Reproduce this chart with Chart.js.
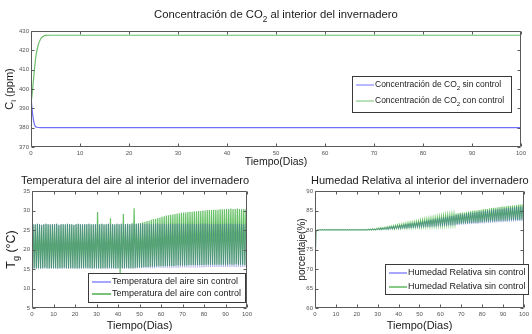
<!DOCTYPE html>
<html lang="es">
<head>
  <meta charset="UTF-8" />
  <title>Invernadero</title>
  <style>
    body { margin: 0; background: #fff; width: 532px; height: 334px; overflow: hidden; position: relative; }
    canvas { position: absolute; display: block; }
  </style>
</head>
<body>
  <canvas id="co2" width="532" height="168" style="left:0;top:0"></canvas>
  <canvas id="temp" width="262" height="166" style="left:0;top:168px"></canvas>
  <canvas id="hum" width="270" height="166" style="left:262px;top:168px"></canvas>

  <script src="https://cdn.jsdelivr.net/npm/chart.js"></script>
  <script>
    // CO2 (ppm) vs time (days)
    const co2SinX = [0, 0.2, 0.5, 0.8, 1.2, 2, 100];
    const co2Sin  = [396, 390, 384, 381, 380.2, 380, 380];
    const co2ConX = [0, 0.3, 0.7, 1.0, 1.5, 2.0, 2.5, 3.0, 4, 100];
    const co2Con  = [392, 399, 410, 417, 423, 426, 427.2, 427.7, 427.8, 427.8];

    // daily min / max of air temperature (°C), days 0..99
    const tConMax = [
      26.5, 26.4, 26.6, 26.5, 26.3, 26.5, 26.6, 26.5, 26.4, 26.5,
      26.5, 26.6, 26.2, 26.5, 26.5, 26.4, 26.6, 26.5, 26.5, 26.3,
      26.5, 26.6, 26.5, 26.4, 26.5, 26.5, 26.6, 26.4, 26.5, 26.5,
      29.6, 26.5, 26.6, 26.4, 26.5, 26.6, 28.0, 26.5, 26.4, 26.6,
      26.5, 26.6, 29.1, 26.5, 26.6, 26.5, 26.7, 30.6, 26.6, 26.7,
      26.8, 27.0, 27.1, 27.3, 27.4, 27.6, 27.8, 27.9, 28.1, 28.2,
      28.4, 28.5, 28.7, 28.8, 28.9, 29.0, 29.1, 29.2, 29.3, 29.4,
      29.5, 29.5, 29.6, 29.7, 29.7, 29.8, 29.8, 29.9, 29.9, 30.0,
      30.0, 30.1, 30.1, 30.1, 30.2, 30.2, 30.2, 30.3, 30.3, 30.3,
      30.4, 30.4, 30.5, 30.4, 30.4, 30.5, 30.4, 30.3, 30.4, 30.3
    ];
    const tConMin = [
      15.2, 15.1, 15.2, 15.2, 15.1, 15.2, 15.3, 15.2, 15.1, 15.2,
      15.2, 15.2, 15.1, 15.2, 15.2, 15.3, 15.2, 15.1, 15.2, 15.2,
      15.2, 15.1, 15.2, 15.2, 15.2, 15.3, 15.2, 15.2, 15.1, 15.2,
      15.2, 15.2, 15.1, 15.2, 15.2, 15.2, 15.3, 15.2, 15.2, 15.1,
      15.2, 14.0, 15.2, 15.2, 15.3, 15.2, 15.2, 15.2, 15.3, 15.3,
      15.4, 15.4, 15.5, 15.5, 15.5, 15.6, 15.6, 15.6, 15.7, 15.7,
      15.7, 15.7, 15.8, 15.8, 15.8, 15.8, 15.8, 15.9, 15.9, 15.9,
      15.9, 15.9, 15.9, 16.0, 16.0, 16.0, 16.0, 16.0, 16.0, 16.0,
      16.0, 16.1, 16.1, 16.1, 16.1, 16.1, 16.1, 16.1, 16.1, 16.1,
      16.1, 16.1, 16.2, 16.1, 16.1, 16.2, 16.1, 16.1, 16.1, 16.0
    ];
    const tSinMax = [
      26.5, 26.5, 26.6, 26.5, 26.4, 26.5, 26.6, 26.5, 26.5, 26.5,
      26.5, 26.6, 26.4, 26.5, 26.5, 26.5, 26.6, 26.5, 26.5, 26.4,
      26.5, 26.6, 26.5, 26.5, 26.5, 26.5, 26.6, 26.5, 26.5, 26.5,
      26.5, 26.5, 26.6, 26.5, 26.5, 26.6, 26.5, 26.5, 26.5, 26.6,
      26.5, 26.6, 26.5, 26.5, 26.6, 26.5, 26.6, 26.5, 26.6, 26.6,
      26.6, 26.6, 26.5, 26.6, 26.6, 26.5, 26.6, 26.6, 26.6, 26.5,
      26.6, 26.6, 26.5, 26.6, 26.6, 26.6, 26.5, 26.6, 26.6, 26.6,
      26.6, 26.5, 26.6, 26.6, 26.6, 26.6, 26.5, 26.6, 26.6, 26.6,
      26.6, 26.6, 26.5, 26.6, 26.6, 26.6, 26.6, 26.5, 26.6, 26.6,
      26.6, 26.6, 26.6, 26.5, 26.6, 26.6, 26.6, 26.6, 26.5, 26.6
    ];
    const tSinMin = [
      15.1, 15.1, 15.1, 15.1, 15.1, 15.1, 15.1, 15.1, 15.1, 15.1,
      15.1, 15.1, 15.1, 15.1, 15.1, 15.1, 15.1, 15.1, 15.1, 15.1,
      15.1, 15.1, 15.1, 15.1, 15.1, 15.1, 15.1, 15.1, 15.1, 15.1,
      15.1, 15.1, 15.1, 15.1, 15.1, 15.1, 15.1, 15.1, 15.1, 15.1,
      15.1, 15.1, 15.1, 15.1, 15.1, 15.1, 15.1, 15.1, 15.1, 15.2,
      15.2, 15.2, 15.2, 15.2, 15.2, 15.2, 15.2, 15.2, 15.3, 15.3,
      15.3, 15.3, 15.3, 15.3, 15.3, 15.3, 15.3, 15.3, 15.3, 15.4,
      15.4, 15.4, 15.4, 15.4, 15.4, 15.4, 15.4, 15.4, 15.4, 15.4,
      15.4, 15.5, 15.5, 15.5, 15.5, 15.5, 15.5, 15.5, 15.5, 15.5,
      15.5, 15.5, 15.5, 15.5, 15.5, 15.5, 15.5, 15.5, 15.5, 15.5
    ];

    // daily min / max of relative humidity (%), days 0..99
    const hConMax = [
      79.6, 80.0, 80.1, 80.1, 80.1, 80.1, 80.1, 80.1, 80.1, 80.1,
      80.1, 80.1, 80.1, 80.1, 80.1, 80.1, 80.1, 80.1, 80.1, 80.1,
      80.1, 80.1, 80.1, 80.1, 80.1, 80.2, 80.2, 80.3, 80.3, 80.4,
      80.5, 80.6, 80.6, 80.7, 80.8, 80.9, 81.0, 81.1, 81.2, 81.3,
      81.4, 81.5, 81.6, 81.7, 81.8, 81.9, 82.0, 82.1, 82.2, 82.3,
      82.5, 82.6, 82.7, 82.8, 82.9, 83.0, 83.1, 83.2, 83.3, 83.4,
      83.5, 83.6, 83.7, 83.8, 83.9, 84.0, 84.1, 84.2, 84.3, 84.4,
      84.5, 84.5, 84.6, 84.7, 84.8, 84.9, 85.0, 85.0, 85.1, 85.2,
      85.3, 85.4, 85.4, 85.5, 85.6, 85.7, 85.7, 85.8, 85.9, 86.0,
      86.0, 86.1, 86.2, 86.2, 86.3, 86.3, 86.4, 86.5, 86.5, 86.6
    ];
    const hConMin = [
      70.0, 80.0, 80.0, 80.0, 80.0, 80.0, 80.0, 80.0, 80.0, 80.0,
      80.0, 80.0, 80.0, 80.0, 80.0, 80.0, 80.0, 80.0, 80.0, 80.0,
      80.0, 80.0, 80.0, 80.0, 80.0, 80.0, 80.0, 80.0, 80.0, 80.0,
      80.1, 80.1, 80.1, 80.2, 80.2, 80.2, 80.3, 80.3, 80.3, 80.4,
      80.4, 80.4, 80.5, 80.5, 80.5, 80.6, 80.6, 80.7, 80.7, 80.8,
      80.8, 80.8, 80.9, 80.9, 81.0, 81.0, 81.0, 81.1, 81.1, 81.2,
      81.2, 81.2, 81.3, 81.3, 81.4, 81.4, 81.5, 81.5, 81.5, 81.6,
      81.6, 81.7, 81.7, 81.7, 81.8, 81.8, 81.9, 81.9, 81.9, 82.0,
      82.0, 82.1, 82.1, 82.1, 82.2, 82.2, 82.2, 82.3, 82.3, 82.3,
      82.4, 82.4, 82.4, 82.5, 82.5, 82.5, 82.6, 82.6, 82.6, 82.7
    ];
    const hSinMax = [
      79.5, 80.0, 80.1, 80.1, 80.1, 80.1, 80.1, 80.1, 80.1, 80.1,
      80.1, 80.1, 80.1, 80.1, 80.1, 80.1, 80.1, 80.1, 80.1, 80.1,
      80.1, 80.1, 80.1, 80.1, 80.1, 80.1, 80.2, 80.2, 80.3, 80.3,
      80.4, 80.5, 80.5, 80.6, 80.7, 80.8, 80.9, 81.0, 81.0, 81.1,
      81.2, 81.3, 81.4, 81.5, 81.6, 81.7, 81.7, 81.8, 81.9, 82.0,
      82.1, 82.2, 82.3, 82.4, 82.5, 82.6, 82.7, 82.8, 82.9, 83.0,
      83.1, 83.2, 83.3, 83.4, 83.5, 83.6, 83.7, 83.8, 83.9, 84.0,
      84.0, 84.1, 84.2, 84.3, 84.4, 84.4, 84.5, 84.6, 84.7, 84.7,
      84.8, 84.9, 85.0, 85.0, 85.1, 85.2, 85.2, 85.3, 85.4, 85.4,
      85.5, 85.6, 85.6, 85.7, 85.7, 85.8, 85.9, 85.9, 86.0, 86.0
    ];
    const hSinMin = [
      70.0, 80.0, 80.0, 80.0, 80.0, 80.0, 80.0, 80.0, 80.0, 80.0,
      80.0, 80.0, 80.0, 80.0, 80.0, 80.0, 80.0, 80.0, 80.0, 80.0,
      80.0, 80.0, 80.0, 80.0, 80.0, 80.0, 80.0, 80.0, 80.0, 80.0,
      80.0, 80.0, 80.0, 80.1, 80.1, 80.1, 80.2, 80.2, 80.2, 80.3,
      80.3, 80.3, 80.4, 80.4, 80.4, 80.5, 80.5, 80.5, 80.6, 80.6,
      80.6, 80.7, 80.7, 80.8, 80.8, 80.8, 80.9, 80.9, 80.9, 81.0,
      81.0, 81.0, 81.1, 81.1, 81.2, 81.2, 81.2, 81.3, 81.3, 81.3,
      81.4, 81.4, 81.4, 81.5, 81.5, 81.5, 81.6, 81.6, 81.6, 81.7,
      81.7, 81.7, 81.8, 81.8, 81.8, 81.9, 81.9, 81.9, 82.0, 82.0,
      82.0, 82.1, 82.1, 82.1, 82.2, 82.2, 82.2, 82.3, 82.3, 82.3
    ];

    const FONT = '"Liberation Sans", Arial, sans-serif';

    function toPoints(xs, ys) {
      return xs.map((x, i) => ({ x: x, y: ys[i] }));
    }

    // one day = a low point then a high point half a day later
    function dailyPoints(mins, maxs) {
      const pts = [];
      mins.forEach((m, d) => {
        pts.push({ x: d, y: m });
        pts.push({ x: d + 0.5, y: maxs[d] });
      });
      return pts;
    }

    // text with subscripts: parts = [['Concentración de CO'], ['2', 1], ...]
    function richWidth(ctx, parts, size) {
      let w = 0;
      parts.forEach(p => {
        ctx.font = (p[1] ? size * 0.72 : size) + 'px ' + FONT;
        w += ctx.measureText(p[0]).width;
      });
      return w;
    }
    function richText(ctx, parts, x, y, size, align, color) {
      const w = richWidth(ctx, parts, size);
      let cx = align === 'center' ? x - w / 2 : x;
      ctx.fillStyle = color || '#222';
      ctx.textAlign = 'left';
      ctx.textBaseline = 'middle';
      parts.forEach(p => {
        const sub = !!p[1];
        ctx.font = (sub ? size * 0.72 : size) + 'px ' + FONT;
        ctx.fillText(p[0], cx, sub ? y + size * 0.38 : y);
        cx += ctx.measureText(p[0]).width;
      });
    }

    const matlabFrame = {
      id: 'matlabFrame',
      afterDraw(chart) {
        const o = chart.options.plugins.matlabFrame;
        const ctx = chart.ctx;
        const a = chart.chartArea;
        const xs = chart.scales.x, ys = chart.scales.y;
        const L = Math.round(a.left) + 0.5, R = Math.round(a.right) - 0.5;
        const T = Math.round(a.top) + 0.5, B = Math.round(a.bottom) - 0.5;
        ctx.save();
        ctx.strokeStyle = '#5a5a5a';
        ctx.lineWidth = 1;
        ctx.beginPath();
        ctx.rect(L, T, R - L, B - T);
        xs.ticks.forEach(t => {
          const px = Math.round(xs.getPixelForValue(t.value)) + 0.5;
          ctx.moveTo(px, B); ctx.lineTo(px, B - 3);
          ctx.moveTo(px, T); ctx.lineTo(px, T + 3);
        });
        ys.ticks.forEach(t => {
          const py = Math.round(ys.getPixelForValue(t.value)) + 0.5;
          ctx.moveTo(L, py); ctx.lineTo(L + 3, py);
          ctx.moveTo(R, py); ctx.lineTo(R - 3, py);
        });
        ctx.stroke();

        // titles
        richText(ctx, o.title, o.titleX, o.titleY, o.titleSize, o.titleAlign, '#1a1a1a');
        richText(ctx, o.xLabel, (a.left + a.right) / 2, o.xLabelY, o.xLabelSize, 'center', '#1a1a1a');
        ctx.save();
        ctx.translate(o.yLabelX, (a.top + a.bottom) / 2);
        ctx.rotate(-Math.PI / 2);
        richText(ctx, o.yLabel, 0, 0, o.yLabelSize, 'center', '#1a1a1a');
        ctx.restore();

        // legend box inside plot
        const lg = o.legend;
        ctx.fillStyle = '#fff';
        ctx.fillRect(lg.x, lg.y, lg.w, lg.h);
        ctx.strokeStyle = '#3a3a3a';
        ctx.strokeRect(lg.x + 0.5, lg.y + 0.5, lg.w - 1, lg.h - 1);
        chart.data.datasets.forEach((ds, i) => {
          const y = lg.rows[i];
          ctx.strokeStyle = ds.legendColor;
          ctx.lineWidth = 1.4;
          ctx.beginPath();
          ctx.moveTo(lg.x + 4, y); ctx.lineTo(lg.x + 4 + lg.line, y);
          ctx.stroke();
          richText(ctx, ds.labelParts, lg.x + 5 + lg.line, y, lg.size, 'left', '#1a1a1a');
        });
        ctx.restore();
      }
    };

    function makeOptions(cfg) {
      return {
        responsive: false,
        animation: false,
        devicePixelRatio: 1,
        layout: { autoPadding: false, padding: { top: cfg.top, right: cfg.right, left: 0, bottom: 0 } },
        scales: {
          x: {
            type: 'linear', min: 0, max: 100,
            grid: { display: false, drawTicks: false },
            border: { display: false },
            ticks: { stepSize: 10, autoSkip: false, maxRotation: 0, padding: 3,
                     color: '#555', font: { family: FONT, size: 6 } },
            afterFit(s) { s.height = cfg.bottom; }
          },
          y: {
            min: cfg.ymin, max: cfg.ymax,
            grid: { display: false, drawTicks: false },
            border: { display: false },
            ticks: { stepSize: cfg.ystep, padding: 2, color: '#555', font: { family: FONT, size: 6 } },
            afterFit(s) { s.width = cfg.left; }
          }
        },
        plugins: {
          legend: { display: false },
          tooltip: { enabled: false },
          matlabFrame: cfg.frame
        }
      };
    }

    Chart.register(matlabFrame);

    new Chart(document.getElementById('co2'), {
      type: 'line',
      data: {
        datasets: [
          { data: toPoints(co2SinX, co2Sin), borderColor: '#6e6ef8', legendColor: '#9a9aff',
            borderWidth: 1.2, pointRadius: 0, cubicInterpolationMode: 'monotone',
            labelParts: [['Concentración de CO'], ['2', 1], [' sin control']] },
          { data: toPoints(co2ConX, co2Con), borderColor: '#6cbf6c', legendColor: '#9bd39b',
            borderWidth: 1.2, pointRadius: 0, cubicInterpolationMode: 'monotone',
            labelParts: [['Concentración de CO'], ['2', 1], [' con control']] }
        ]
      },
      options: makeOptions({
        top: 31, right: 11, left: 31, bottom: 21, ymin: 370, ymax: 430, ystep: 10,
        frame: {
          title: [['Concentración de CO'], ['2', 1], [' al interior del invernadero']],
          titleX: 276, titleY: 15, titleSize: 11.3, titleAlign: 'center',
          xLabel: [['Tiempo(Dias)']], xLabelY: 162, xLabelSize: 10.5,
          yLabel: [['C'], ['i', 1], [' (ppm)']], yLabelX: 10, yLabelSize: 11,
          legend: { x: 352, y: 76, w: 160, h: 37, rows: [85, 101], line: 18, size: 8.5 }
        }
      })
    });

    new Chart(document.getElementById('temp'), {
      type: 'line',
      data: {
        datasets: [
          { data: dailyPoints(tSinMin, tSinMax), borderColor: 'rgba(30,50,190,0.45)', legendColor: '#8080ff',
            borderWidth: 0.5, pointRadius: 0, tension: 0,
            labelParts: [['Temperatura del aire sin control']] },
          { data: dailyPoints(tConMin, tConMax), borderColor: '#66c066', legendColor: '#40a840',
            borderWidth: 1.2, pointRadius: 0, tension: 0,
            labelParts: [['Temperatura del aire con control']] }
        ]
      },
      options: makeOptions({
        top: 23, right: 15, left: 32, bottom: 26, ymin: 5, ymax: 35, ystep: 5,
        frame: {
          title: [['Temperatura del aire al interior del invernadero']],
          titleX: 21, titleY: 13, titleSize: 11, titleAlign: 'left',
          xLabel: [['Tiempo(Dias)']], xLabelY: 158, xLabelSize: 11,
          yLabel: [['T'], ['g', 1], [' (°C)']], yLabelX: 12, yLabelSize: 12.5,
          legend: { x: 88, y: 105, w: 158, h: 30, rows: [114, 126], line: 19, size: 9 }
        }
      })
    });

    new Chart(document.getElementById('hum'), {
      type: 'line',
      data: {
        datasets: [
          { data: dailyPoints(hSinMin, hSinMax), borderColor: 'rgba(40,60,200,0.5)', legendColor: '#8080ff',
            borderWidth: 0.5, pointRadius: 0, tension: 0,
            labelParts: [['Humedad Relativa sin control']] },
          { data: dailyPoints(hConMin, hConMax), borderColor: '#66c066', legendColor: '#52b452',
            borderWidth: 1.1, pointRadius: 0, tension: 0,
            labelParts: [['Humedad Relativa sin control']] }
        ]
      },
      options: makeOptions({
        top: 23, right: 3, left: 53, bottom: 26, ymin: 60, ymax: 90, ystep: 5,
        frame: {
          title: [['Humedad Relativa al interior del invernadero']],
          titleX: 49, titleY: 13, titleSize: 11, titleAlign: 'left',
          xLabel: [['Tiempo(Dias)']], xLabelY: 158, xLabelSize: 11,
          yLabel: [['porcentaje(%)']], yLabelX: 40, yLabelSize: 10,
          legend: { x: 123, y: 96, w: 144, h: 31, rows: [105, 119], line: 18, size: 9 }
        }
      })
    });
  </script>
</body>
</html>
